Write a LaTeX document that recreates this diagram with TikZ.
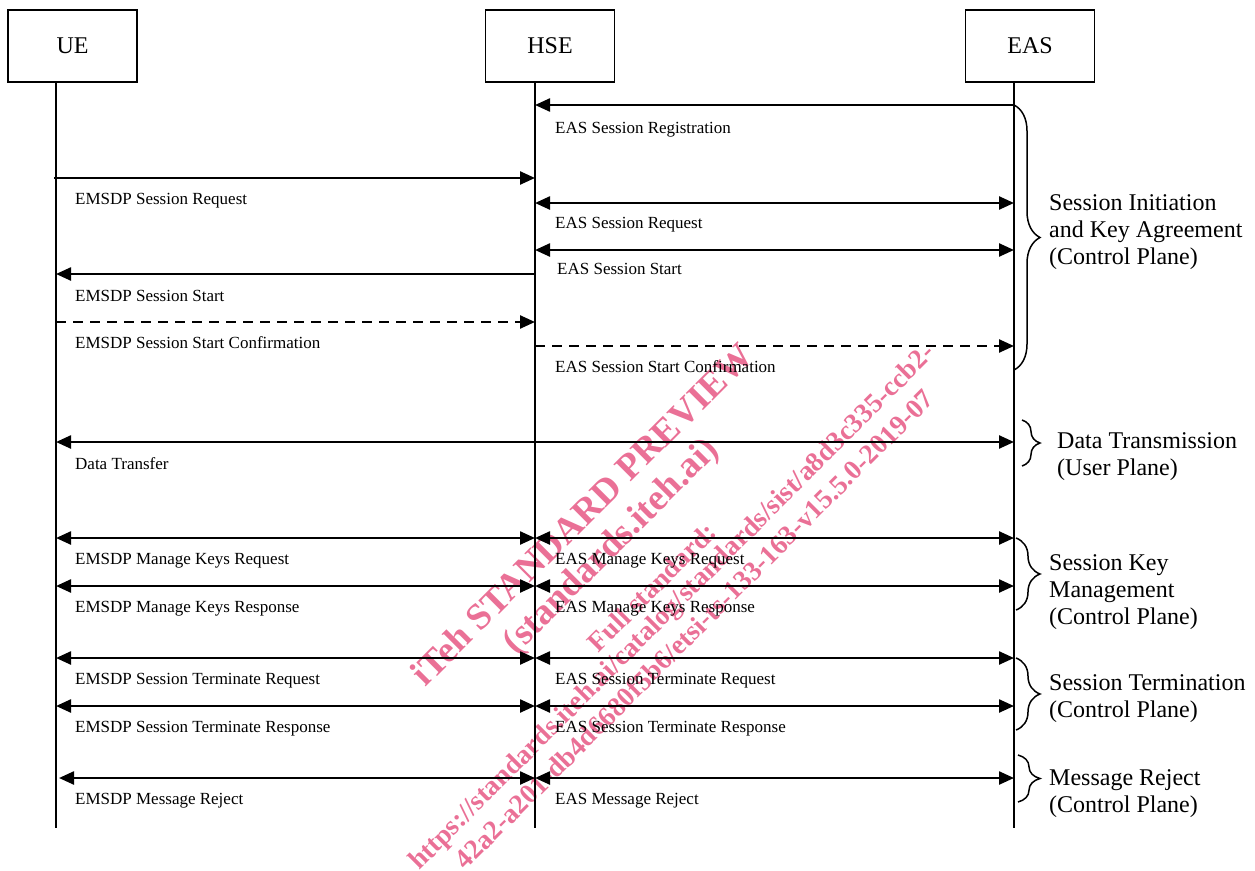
\documentclass[tikz,border=0pt]{standalone}
\usepackage{fontspec}
\setmainfont{Liberation Serif}
\usetikzlibrary{arrows.meta,decorations.pathreplacing}
\definecolor{wm}{RGB}{234,112,150}
\tikzset{
 actor/.style={draw,line width=1.5pt,minimum width=129pt,minimum height=72pt,inner sep=0pt,font=\fontsize{24}{28}\selectfont},
 life/.style={line width=1.8pt},
 msg/.style={line width=2.4pt,-{Triangle[length=15pt,width=13pt]}},
 msgboth/.style={line width=2.4pt,{Triangle[length=15pt,width=13pt]}-{Triangle[length=15pt,width=13pt]}},
 dsh/.style={dash pattern=on 10pt off 7pt},
 lbl/.style={anchor=west,inner sep=0pt,font=\fontsize{17}{20}\selectfont,text height=12pt,text depth=4pt,yshift=-2pt},
 grp/.style={anchor=west,inner sep=0pt,align=left,font=\fontsize{24}{27}\selectfont,yshift=-3pt},
 brc/.style={decorate,decoration={brace,amplitude=#1},line width=1.5pt},
 wmk/.style={text=wm,font=\bfseries\fontsize{#1}{#1}\selectfont,rotate=45,inner sep=0pt},
}
\begin{document}
\begin{tikzpicture}[x=1pt,y=-1pt]
\useasboundingbox (0,0) rectangle (1255,870);
% watermark
\node[wmk=37] (wm1) at (582,514) {iTeh STANDARD PREVIEW};
\node[wmk=37] (wm2) at (612,547) {(standards.iteh.ai)};
\node[wmk=27.5] (wm3) at (652,587) {Full standard:};
\node[wmk=27.5] (wm4) at (673,608) {https://standards.iteh.ai/catalog/standards/sist/a8d3c335-ccb2-};
\node[wmk=27.5] (wm5) at (694,629) {42a2-a201-db4d6680f5b6/etsi-ts-133-163-v15.5.0-2019-07};
% actors
\node[actor] (ue) at (72.5,46) {UE};
\node[actor] (hse) at (550,46) {HSE};
\node[actor] (eas) at (1030,46) {EAS};
\coordinate (ut) at (56,82); \coordinate (ub) at (56,828);
\coordinate (ht) at (535,82); \coordinate (hb) at (535,828);
\coordinate (et) at (1014,82); \coordinate (eb) at (1014,828);
\draw[life] (ut) -- (ub);
\draw[life] (ht) -- (hb);
\draw[life] (et) -- (eb);
\foreach \n/\y in {1/105,2/178,3/203,4/250,5/274,6/322,7/346,8/442,9/538,10/586,11/658,12/706,13/778}{
  \coordinate (u\n) at (56,\y);
  \coordinate (h\n) at (535,\y);
  \coordinate (e\n) at (1014,\y);
}
% session initiation
\draw[msg] (e1) -- (h1);
\node[lbl] (l1) at (555,127) {EAS Session Registration};
\draw[msg] ([xshift=-2pt]u2) -- (h2);
\node[lbl] (l2) at (75,198) {EMSDP Session Request};
\draw[msgboth] (h3) -- (e3);
\node[lbl] (l3) at (555,222) {EAS Session Request};
\draw[msgboth] (h4) -- (e4);
\node[lbl] (l4) at (557,268) {EAS Session Start};
\draw[msg] (h5) -- (u5);
\node[lbl] (l5) at (75,295) {EMSDP Session Start};
\draw[msg,dsh] (u6) -- (h6);
\node[lbl] (l6) at (75,342) {EMSDP Session Start Confirmation};
\draw[msg,dsh] (h7) -- (e7);
\node[lbl] (l7) at (555,366) {EAS Session Start Confirmation};
% data
\draw[msgboth] (u8) -- (e8);
\node[lbl] (l8) at (75,463) {Data Transfer};
% key management
\draw[msgboth] (u9) -- (h9);
\draw[msgboth] (h9) -- (e9);
\node[lbl] (l9a) at (75,558) {EMSDP Manage Keys Request};
\node[lbl] (l9b) at (555,558) {EAS Manage Keys Request};
\draw[msgboth] (u10) -- (h10);
\draw[msgboth] (h10) -- (e10);
\node[lbl] (l10a) at (75,606) {EMSDP Manage Keys Response};
\node[lbl] (l10b) at (555,606) {EAS Manage Keys Response};
% termination
\draw[msgboth] (u11) -- (h11);
\draw[msgboth] (h11) -- (e11);
\node[lbl] (l11a) at (75,678) {EMSDP Session Terminate Request};
\node[lbl] (l11b) at (555,678) {EAS Session Terminate Request};
\draw[msgboth] (u12) -- (h12);
\draw[msgboth] (h12) -- (e12);
\node[lbl] (l12a) at (75,726) {EMSDP Session Terminate Response};
\node[lbl] (l12b) at (555,726) {EAS Session Terminate Response};
% reject
\draw[msgboth] ([xshift=3pt]u13) -- (h13);
\draw[msgboth] (h13) -- (e13);
\node[lbl] (l13a) at (75,798) {EMSDP Message Reject};
\node[lbl] (l13b) at (555,798) {EAS Message Reject};
% braces
\coordinate (b1t) at (1014,105); \coordinate (b1b) at (1014,370);
\coordinate (b2t) at (1022,420); \coordinate (b2b) at (1022,466);
\coordinate (b3t) at (1016,538); \coordinate (b3b) at (1016,610);
\coordinate (b4t) at (1016,658); \coordinate (b4b) at (1016,730);
\coordinate (b5t) at (1018,755); \coordinate (b5b) at (1018,802);
\draw[brc=26pt] (b1t) -- (b1b);
\draw[brc=18pt] (b2t) -- (b2b);
\draw[brc=24pt] (b3t) -- (b3b);
\draw[brc=24pt] (b4t) -- (b4b);
\draw[brc=22pt] (b5t) -- (b5b);
\node[grp] (g1) at (1049,229) {Session Initiation\\and Key Agreement\\(Control Plane)};
\node[grp] (g2) at (1057,454) {Data Transmission\\(User Plane)};
\node[grp] (g3) at (1049,589) {Session Key\\Management\\(Control Plane)};
\node[grp] (g4) at (1049,696) {Session Termination\\(Control Plane)};
\node[grp] (g5) at (1049,791) {Message Reject\\(Control Plane)};
\end{tikzpicture}
\end{document}
